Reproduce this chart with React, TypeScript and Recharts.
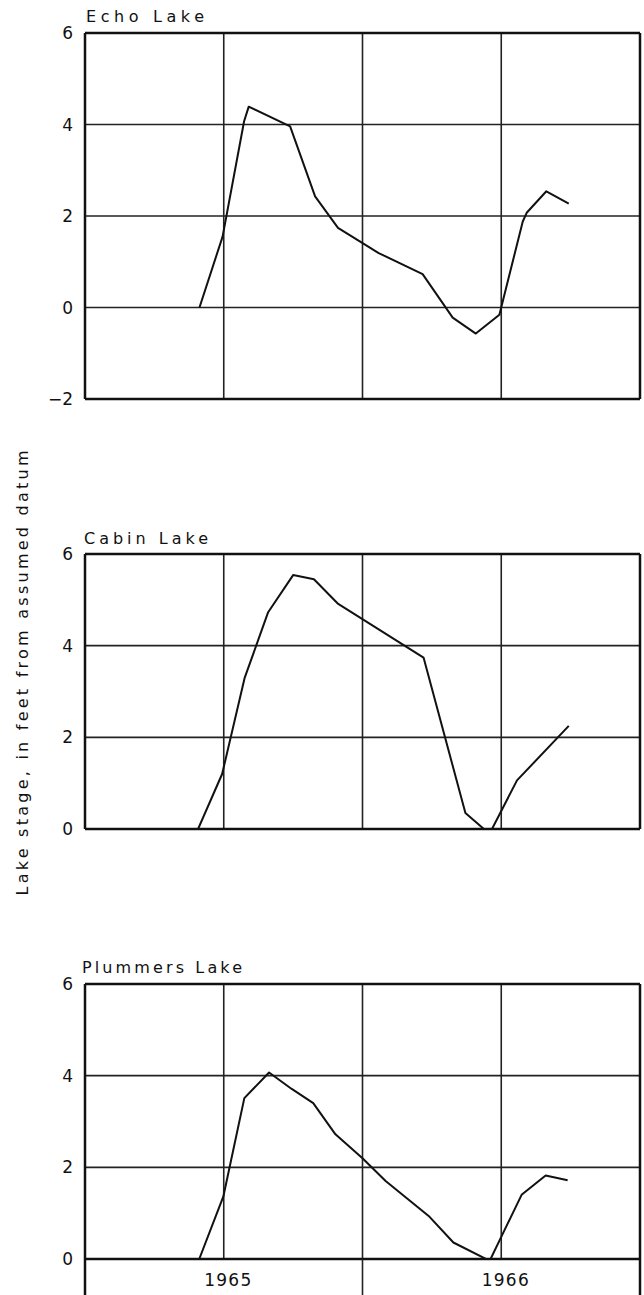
import React from 'react';
import { LineChart, Line, XAxis, YAxis, CartesianGrid, ReferenceLine } from 'recharts';

// x values: months since 1 Jan 1965
const echoMonths = [4.95, 5.95, 6.88, 7.08, 8.87, 9.95, 10.94, 11.97, 12.7, 14.6, 15.9, 16.9, 17.92, 18.93, 19.1, 19.95, 20.92];
const echoStage = [0, 1.55, 4.07, 4.39, 3.96, 2.43, 1.74, 1.42, 1.19, 0.73, -0.22, -0.57, -0.16, 1.88, 2.07, 2.54, 2.27];

const cabinMonths = [4.89, 5.93, 6.9, 7.92, 9.0, 9.9, 10.95, 14.64, 16.45, 17.25, 17.6, 18.68, 20.92];
const cabinStage = [0, 1.2, 3.29, 4.73, 5.54, 5.45, 4.91, 3.74, 0.35, 0, 0, 1.06, 2.25];

const plummersMonths = [4.94, 5.98, 6.89, 7.96, 8.94, 9.87, 10.83, 12.0, 13.0, 14.9, 15.93, 17.5, 18.88, 19.92, 20.87];
const plummersStage = [0, 1.36, 3.51, 4.07, 3.71, 3.4, 2.72, 2.2, 1.7, 0.92, 0.36, -0.04, 1.4, 1.82, 1.72];

const monthTicks = [0, 6, 12, 18, 24];
const yearLabels = ['1965', '1966'];
const yearCenters = [6, 18];
const echoTicks = [-2, 0, 2, 4, 6];
const stageTicks = [0, 2, 4, 6];

const FONT = '"DejaVu Sans", "Liberation Sans", sans-serif';
const INK = '#111';
const GRID = '#222';

const fmt = (v: number) => (v < 0 ? `\u2212${-v}` : `${v}`);

const YearTick = (props: any) => {
  const { x, y, payload } = props;
  const k = yearCenters.indexOf(payload.value);
  if (k >= 0) {
    return (
      <text x={x + 4} y={y + 21} textAnchor="middle" dominantBaseline="central" fontFamily={FONT}
        fontSize={17} fill={INK} textLength={47} lengthAdjust="spacing">{yearLabels[k]}</text>
    );
  }
  const edge = payload.value === monthTicks[0] || payload.value === monthTicks[monthTicks.length - 1];
  return <line x1={x} x2={x} y1={y} y2={y + 40} stroke={edge ? INK : GRID} strokeWidth={edge ? 2.5 : 1.6} />;
};

type PanelProps = {
  months: number[];
  stage: number[];
  yTicks: number[];
  top: number;
  height: number;
  marginTop: number;
  marginBottom: number;
  years?: boolean;
};

function Panel({ months, stage, yTicks, top, height, marginTop, marginBottom, years }: PanelProps) {
  const data = months.map((m, i) => ({ m, v: stage[i] }));
  const yMin = yTicks[0];
  const yMax = yTicks[yTicks.length - 1];
  const innerMonths = monthTicks.slice(1, -1);
  return (
    <div style={{ position: 'absolute', left: 0, top, width: 644, height }}>
      <LineChart width={644} height={height} data={data}
        margin={{ top: marginTop, right: 4, bottom: marginBottom, left: 0 }}>
        <CartesianGrid stroke={GRID} strokeWidth={1.6} fill="none" vertical={false} />
        <XAxis type="number" dataKey="m" domain={[0, 24]} ticks={monthTicks} interval={0}
          allowDataOverflow hide={!years} height={years ? 36 : 0}
          axisLine={false} tickLine={false} tickSize={0} tickMargin={0}
          tick={years ? <YearTick /> : false} />
        <YAxis type="number" domain={[yMin, yMax]} ticks={yTicks} interval={0} allowDataOverflow
          width={85} axisLine={false} tickLine={false} tickSize={0} tickMargin={12}
          tick={{ fill: INK, fontSize: 17, fontFamily: FONT }} tickFormatter={fmt} />
        {innerMonths.map((mo) => (
          <ReferenceLine key={`g${mo}`} x={mo} stroke={GRID} strokeWidth={1.6} />
        ))}
        <ReferenceLine x={monthTicks[0]} stroke={INK} strokeWidth={2.5} />
        <ReferenceLine x={monthTicks[monthTicks.length - 1]} stroke={INK} strokeWidth={2.5} />
        <ReferenceLine y={yMax} stroke={INK} strokeWidth={2.5} />
        <ReferenceLine y={yMin} stroke={INK} strokeWidth={2.5} />
        <Line type="linear" dataKey="v" stroke={INK} strokeWidth={2} dot={false}
          isAnimationActive={false} strokeLinejoin="round" />
      </LineChart>
    </div>
  );
}

export default function App() {
  const titleStyle = { fontFamily: FONT, fontSize: 16, fill: INK } as const;
  return (
    <div style={{ position: 'fixed', left: 0, top: 0, width: 644, height: 1295, overflow: 'hidden', background: '#fff' }}>
      <Panel months={echoMonths} stage={echoStage} yTicks={echoTicks} top={0} height={420} marginTop={33} marginBottom={21} />
      <Panel months={cabinMonths} stage={cabinStage} yTicks={stageTicks} top={520} height={330} marginTop={34} marginBottom={21} />
      <Panel months={plummersMonths} stage={plummersStage} yTicks={stageTicks} top={940} height={355} marginTop={44} marginBottom={0} years />
      <svg width={644} height={1295} style={{ position: 'absolute', left: 0, top: 0, pointerEvents: 'none' }}>
        <text x={86} y={16} dominantBaseline="central" {...titleStyle} textLength={118} lengthAdjust="spacing">Echo Lake</text>
        <text x={84} y={538} dominantBaseline="central" {...titleStyle} textLength={124} lengthAdjust="spacing">Cabin Lake</text>
        <text x={82} y={967} dominantBaseline="central" {...titleStyle} textLength={160} lengthAdjust="spacing">Plummers Lake</text>
        <text x={22} y={673} transform="rotate(-90 22 673)" textAnchor="middle" dominantBaseline="central"
          fontFamily={FONT} fontSize={16} fill={INK} textLength={445} lengthAdjust="spacing">
          Lake stage, in feet from assumed datum
        </text>
      </svg>
    </div>
  );
}
